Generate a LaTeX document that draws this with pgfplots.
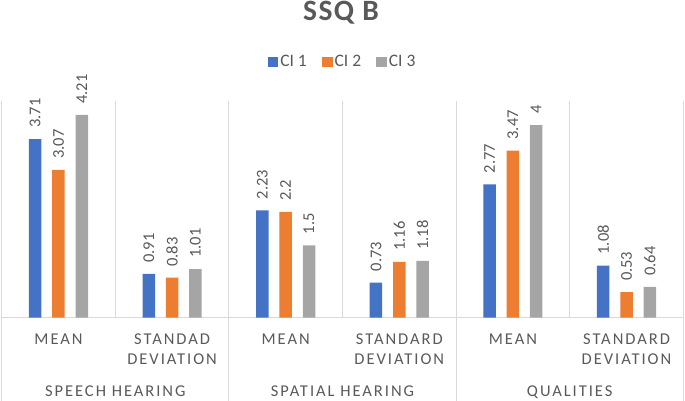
\documentclass[border=0pt]{standalone}
\usepackage{pgfplots}
\pgfplotsset{compat=1.18}
\usepackage{fontspec}
\setmainfont{Carlito}
\newfontfamily\spacedfont[LetterSpace=12]{Carlito}
\newfontfamily\titlefont[LetterSpace=5]{Carlito}
\definecolor{ciblue}{HTML}{4472C4}
\definecolor{ciorange}{HTML}{ED7D31}
\definecolor{cigray}{HTML}{A5A5A5}
\definecolor{txt}{HTML}{595959}
\definecolor{gridc}{HTML}{D9D9D9}
\begin{document}
\begin{tikzpicture}
\path[use as bounding box] (0,0) rectangle (685pt,401pt);
\node[anchor=base, text=txt, font=\titlefont\bfseries\fontsize{29.5}{32}\selectfont, inner sep=0pt] at (341pt,380.3pt) {SSQ B};
\begin{axis}[
  at={(1.7pt,83.3pt)}, anchor=south west,
  scale only axis, width=681.6pt, height=217pt,
  xmin=-0.5, xmax=5.5, ymin=0, ymax=4.507,
  clip=false,
  ybar=10.8pt, bar width=12.5pt,
  axis line style={draw=none},
  ytick=\empty,
  extra y ticks={0}, extra y tick labels={},
  extra y tick style={grid=major, major grid style={gridc, line width=1.3pt}, major tick length=0pt},
  xtick={0,1,2,3,4,5},
  xticklabels={MEAN, {STANDAD\\DEVIATION}, MEAN, {STANDARD\\DEVIATION}, MEAN, {STANDARD\\DEVIATION}},
  xticklabel style={align=center, font=\spacedfont\fontsize{16.5}{19.6}\selectfont, text=txt, anchor=north, yshift=-13pt},
  minor xtick={-0.5,0.5,1.5,2.5,3.5,4.5,5.5},
  xminorgrids=true,
  minor grid style={gridc, line width=1pt},
  major tick length=0pt, minor tick length=0pt,
  nodes near coords={\pgfmathprintnumber[assume math mode=true]{\pgfplotspointmeta}},
  every node near coord/.append style={rotate=90, anchor=west, font=\fontsize{16.5}{18}\selectfont, text=txt, inner xsep=11pt},
  legend style={at={(0.5,1.178)}, anchor=center, draw=none, fill=none, legend columns=-1,
    font=\fontsize{17.5}{19}\selectfont, text=txt,
    /tikz/every even column/.append style={column sep=13pt}},
  legend image code/.code={\draw[#1, draw=none] (0pt,-5.35pt) rectangle (10.7pt,5.35pt);},
]
\addplot[fill=ciblue, draw=none] coordinates {(0,3.71) (1,0.91) (2,2.23) (3,0.73) (4,2.77) (5,1.08)};
\addplot[fill=ciorange, draw=none] coordinates {(0,3.07) (1,0.83) (2,2.2) (3,1.16) (4,3.47) (5,0.53)};
\addplot[fill=cigray, draw=none] coordinates {(0,4.21) (1,1.01) (2,1.5) (3,1.18) (4,4) (5,0.64)};
\legend{CI 1, CI 2, CI 3}
\draw[gridc, line width=1pt] (axis cs:-0.5,0) -- ++(0pt,-84pt);
\draw[gridc, line width=1pt] (axis cs:1.5,0) -- ++(0pt,-84pt);
\draw[gridc, line width=1pt] (axis cs:3.5,0) -- ++(0pt,-84pt);
\draw[gridc, line width=1pt] (axis cs:5.5,0) -- ++(0pt,-84pt);
\node[anchor=base, text=txt, font=\spacedfont\fontsize{16.5}{19.3}\selectfont, inner sep=0pt] at (axis cs:0.5,0) [yshift=-78.8pt] {SPEECH HEARING};
\node[anchor=base, text=txt, font=\spacedfont\fontsize{16.5}{19.3}\selectfont, inner sep=0pt] at (axis cs:2.5,0) [yshift=-78.8pt] {SPATIAL HEARING};
\node[anchor=base, text=txt, font=\spacedfont\fontsize{16.5}{19.3}\selectfont, inner sep=0pt] at (axis cs:4.5,0) [yshift=-78.8pt] {QUALITIES};
\end{axis}
\end{tikzpicture}
\end{document}
